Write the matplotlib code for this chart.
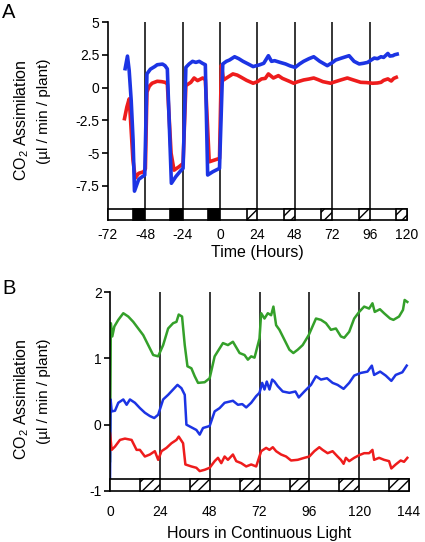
import matplotlib
matplotlib.use('Agg')
import matplotlib.pyplot as plt
from matplotlib.patches import Rectangle

plt.rcParams['font.family'] = ['Liberation Sans', 'DejaVu Sans']
plt.rcParams['mathtext.fontset'] = 'custom'
plt.rcParams['mathtext.rm'] = 'Liberation Sans'
plt.rcParams['hatch.linewidth'] = 1.0

# ---- panel A data (hours, CO2 assimilation) ----
blueA_t = [-61, -59.5, -58.4, -57.1, -55.9, -55, -52.3, -50, -48.4, -47, -44.8, -42, -40.4, -37, -35.4,
           -33.9, -31.3, -28.5, -25.3, -23.8, -22, -19.9, -17.7, -15.6, -13.4, -11.2, -9.5, -8, -4.7,
           -0.4, 1.7, 4, 6, 9.3, 12, 14.7, 18, 21.2, 25.5, 28, 31, 33, 35, 38.5, 42, 45, 48.2, 51,
           53.6, 57, 60.1, 64, 68.8, 72, 74.2, 78, 82.8, 86, 89.3, 92, 94.7, 97, 99, 101, 103.3, 105,
           107.7, 109, 110.9, 112, 113.7]
blueA_v = [1.44, 2.4, 1.3, -1.0, -4.0, -7.9, -7.0, -6.8, -6.67, 1.04, 1.4, 1.6, 1.74, 1.79, 1.67,
           1.42, -7.3, -6.8, -6.34, -6.16, 1.54, 1.8, 2.0, 1.92, 2.0, 1.84, 1.74, -6.67, -6.42,
           -6.16, 1.8, 2.0, 2.1, 2.35, 2.2, 2.0, 1.8, 1.6, 1.74, 1.85, 2.43, 2.0, 2.05, 1.92, 1.8, 1.65, 1.54, 1.8,
           2.0, 2.2, 2.35, 2.0, 1.67, 1.9, 2.1, 2.25, 2.43, 2.0, 1.8, 1.85, 1.92, 2.1, 2.25, 2.2, 2.35, 2.3,
           2.6, 2.4, 2.43, 2.5, 2.55]

redA_t = [-61.4, -59.9, -58.4, -57.5, -56, -54.5, -52.3, -49.1, -48, -47, -45.5, -43.7, -40.4, -37.5, -35.4,
          -33.9, -31.5, -29.6, -26.4, -23.8, -22, -18.8, -16.7, -14.5, -11.2, -9.5, -7, -0.4, 0.8, 2.2,
          5, 8.2, 11, 13.6, 17, 21.2, 24, 26.6, 29, 31, 34.2, 37.4, 40, 44, 47.2, 50, 53.6, 57, 60.1,
          63, 66, 70.9, 74, 78, 81.7, 85, 90.3, 94, 97.9, 101, 103.3, 105, 107.7, 109.9, 111.5, 113.1]
redA_v = [-2.37, -1.49, -0.86, -2.5, -5.5, -6.9, -6.54, -6.42, -6.2, -0.35, 0.1, 0.33, 0.48, 0.45, 0.4,
          0.28, -5.0, -6.3, -6.04, -5.79, 0.15, 0.4, 0.73, 0.53, 0.73, 0.6, -5.66, -5.4, 1.7, 0.58,
          0.8, 1.04, 0.95, 0.78, 0.55, 0.33, 0.45, 0.66, 0.7, 1.04, 0.73, 0.91, 0.7, 0.5, 0.33, 0.45, 0.58, 0.65, 0.73,
          0.6, 0.45, 0.33, 0.45, 0.6, 0.73, 0.6, 0.4, 0.38, 0.33, 0.35, 0.4, 0.55, 0.66, 0.5, 0.7, 0.78]

darkA = [(-56, -48), (-32, -24), (-8, 0)]
subjA = [(17, 24), (41, 48), (65, 72), (89, 96), (113, 120)]
gridA = [-48, -24, 0, 24, 48, 72, 96]
xticksA = [-72, -48, -24, 0, 24, 48, 72, 96, 120]
yticksA = [5, 2.5, 0, -2.5, -5, -7.5]
ylabelsA = ['5', '2.5', '0', '-2.5', '-5', '-7.5']

# ---- panel B data (hours in continuous light) ----
greenB_t = [0, 0.4, 1.1, 2.1, 4, 6.4, 8.8, 11.2, 13.6, 16, 18.4, 20.8, 23.2, 25.6, 28, 30.4, 32, 33.1, 34.7,
            36, 37.3, 39.2, 40.8, 42.4, 45.6, 48, 50.4, 54.4, 56.8, 59.2, 62.4, 64.8, 66.4, 68, 69.6,
            72, 72.8, 74.4, 76, 77.6, 78.7, 80, 81.6, 84, 86.4, 88.3, 90.4, 92.8, 95.7, 99.2, 101.6,
            104, 106.4, 108.8, 111.2, 112.8, 115.2, 117.6, 120, 122.4, 124.8, 126.4, 127.5, 130, 132,
            134.9, 136.5, 139.2, 141.1, 141.9, 143.2]
greenB_v = [-0.55, 1.53, 1.33, 1.48, 1.58, 1.68, 1.63, 1.55, 1.45, 1.35, 1.2, 1.05, 1.03, 1.2, 1.45, 1.53, 1.55, 1.66, 1.63,
            1.2, 0.88, 0.85, 0.73, 0.63, 0.64, 0.70, 1.03, 1.23, 1.2, 1.25, 1.08, 1.05, 0.98, 1.03, 1.01,
            1.3, 1.68, 1.6, 1.68, 1.65, 1.78, 1.5, 1.43, 1.28, 1.13, 1.08, 1.13, 1.2, 1.35, 1.6, 1.58,
            1.53, 1.43, 1.45, 1.33, 1.31, 1.40, 1.6, 1.70, 1.78, 1.75, 1.83, 1.70, 1.74, 1.68,
            1.6, 1.58, 1.63, 1.73, 1.88, 1.85]

blueB_t = [0, 0.3, 0.8, 2.4, 4, 6.4, 8, 9.6, 12, 14.4, 16.8, 19.2, 21.3, 23.2, 25.6, 28, 30.4, 32.5, 34.4,
           36, 36.8, 39.2, 41.6, 43.2, 44.8, 48, 50.4, 52.8, 55.2, 59.2, 61.6, 63.7, 65.6, 68, 70.4, 72,
           73.3, 74.4, 75.5, 76.8, 78.1, 79.2, 80.8, 83.2, 86.4, 89.3, 90.9, 93.6, 96.8, 99.2, 101.6,
           104.5, 107.2, 109.6, 112.5, 115.2, 117.6, 120.8, 124, 126.1, 127.2, 130.1, 132.8, 135.5,
           137.6, 140.8, 142.9]
blueB_v = [-0.85, 0.38, 0.2, 0.21, 0.33, 0.38, 0.30, 0.38, 0.33, 0.25, 0.18, 0.13, 0.10, 0.15, 0.38, 0.45, 0.53, 0.6, 0.55,
           0.45, 0.0, -0.04, -0.08, -0.15, -0.05, -0.02, 0.2, 0.25, 0.33, 0.36, 0.30, 0.31, 0.26, 0.33, 0.43, 0.48,
           0.63, 0.53, 0.65, 0.53, 0.68, 0.65, 0.58, 0.5, 0.48, 0.5, 0.41, 0.5, 0.6, 0.73, 0.68,
           0.70, 0.63, 0.6, 0.54, 0.63, 0.74, 0.78, 0.8, 0.89, 0.75, 0.8, 0.74, 0.66,
           0.75, 0.79, 0.89]

redB_t = [0, 0.8, 2.4, 4.8, 7.2, 10.4, 12.8, 14.4, 16.8, 19.2, 21.6, 23.2, 24.8, 27.2, 29.6, 32, 33.1, 35.2,
          36.3, 39.2, 41.6, 43.2, 45.6, 48, 50.4, 52, 53.6, 55.2, 56.8, 59.2, 60.8, 63.2, 65.6, 68, 70.4,
          72.8, 75.2, 76.8, 78.4, 80, 82.4, 84.8, 87.2, 90.4, 93.6, 96, 98.4, 100.8, 102.4, 104.8, 107.2,
          109.6, 111.2, 112.5, 113.6, 115.2, 117.6, 120, 122.4, 124.8, 126.4, 127.2, 129.6, 132, 134.4,
          135.5, 137.6, 140, 141.6, 143.2]
redB_v = [-0.13, -0.38, -0.33, -0.23, -0.21, -0.23, -0.38, -0.38, -0.48, -0.45, -0.40, -0.53, -0.40, -0.35, -0.28, -0.23, -0.18, -0.28,
          -0.6, -0.63, -0.65, -0.70, -0.68, -0.65, -0.55, -0.5, -0.58, -0.48, -0.53, -0.45, -0.55, -0.58, -0.63, -0.6, -0.63,
          -0.40, -0.35, -0.38, -0.34, -0.4, -0.45, -0.48, -0.54, -0.53, -0.5, -0.48, -0.4, -0.34, -0.38, -0.43, -0.4,
          -0.48, -0.53, -0.59, -0.5, -0.55, -0.5, -0.46, -0.43, -0.43, -0.38, -0.53, -0.5, -0.53, -0.55,
          -0.66, -0.6, -0.54, -0.56, -0.5]

subjB = [(14.5, 24), (38.5, 48), (62.5, 72), (86.5, 96), (110.5, 120), (134.5, 144)]
gridB = [24, 48, 72, 96, 120]
xticksB = [0, 24, 48, 72, 96, 120, 144]
yticksB = [2, 1, 0, -1]

RED = '#ee1c1c'
BLUE = '#1c34e4'
GREEN = '#34a02a'


def light_bar(ax, x0, x1, y0, y1, dark, subj):
    ax.add_patch(Rectangle((x0, y0), x1 - x0, y1 - y0, facecolor='white',
                           edgecolor='black', lw=1.2, clip_on=False, zorder=3))
    for a, b in dark:
        ax.add_patch(Rectangle((a, y0), b - a, y1 - y0, facecolor='black',
                               edgecolor='black', lw=1.2, clip_on=False, zorder=4))
    for a, b in subj:
        ax.add_patch(Rectangle((a, y0), b - a, y1 - y0, facecolor='white', hatch='///',
                               edgecolor='black', lw=1.2, clip_on=False, zorder=4))


def style(ax):
    for s in ['top', 'right', 'bottom']:
        ax.spines[s].set_visible(False)
    ax.spines['left'].set_linewidth(1.2)
    ax.tick_params(axis='y', direction='out', length=4, width=1.2, pad=2, labelsize=10)
    ax.tick_params(axis='x', length=0, labelsize=10)


fig = plt.figure(figsize=(4.25, 5.42), dpi=100)

# panel A
axA = fig.add_axes([108 / 425, 1 - 220 / 542, 299 / 425, 198 / 542])
axA.plot(redA_t, redA_v, color=RED, lw=2.6, zorder=2)
axA.plot(blueA_t, blueA_v, color=BLUE, lw=2.6, zorder=2)
axA.vlines(gridA, -9.25, 5, color='black', lw=1.1, zorder=1)
axA.set_xlim(-72, 120)
axA.set_ylim(-10.1, 5)
light_bar(axA, -72, 120, -10.1, -9.25, darkA, subjA)
style(axA)
axA.set_yticks(yticksA)
axA.set_yticklabels(ylabelsA)
axA.set_xticks(xticksA)
axA.set_xticklabels([str(v) for v in xticksA])
axA.tick_params(axis='x', pad=6)
axA.set_xlabel('Time (Hours)', fontsize=11.5, labelpad=2)

# panel B
axB = fig.add_axes([110 / 425, 1 - 491 / 542, 299 / 425, 199 / 542])
axB.plot(greenB_t, greenB_v, color=GREEN, lw=1.8, zorder=2)
axB.plot(blueB_t, blueB_v, color=BLUE, lw=1.8, zorder=2)
axB.plot(redB_t, redB_v, color=RED, lw=1.8, zorder=2)
axB.vlines(gridB, -0.82, 2, color='black', lw=1.1, zorder=1)
axB.set_xlim(0, 144)
axB.set_ylim(-1, 2)
light_bar(axB, 0, 144, -1, -0.82, [], subjB)
style(axB)
axB.set_yticks(yticksB)
axB.set_yticklabels([str(v) for v in yticksB])
axB.set_xticks(xticksB)
axB.tick_params(axis='x', pad=10)
axB.set_xlabel('Hours in Continuous Light', fontsize=11.5, labelpad=5)

# y labels (two lines each)
for top in [59, 338]:
    fig.text(22 / 425, 1 - top / 542, r'CO$_\mathregular{2}$ Assimilation', rotation=90,
             ha='center', va='top', fontsize=11.5)
    fig.text(44 / 425, 1 - top / 542, '(\u00b5l / min / plant)', rotation=90,
             ha='center', va='top', fontsize=11)

fig.text(9 / 425, 1 - 12 / 542, 'A', ha='center', va='center', fontsize=14.5)
fig.text(9 / 425, 1 - 289 / 542, 'B', ha='center', va='center', fontsize=14.5)

fig.savefig('out.png', dpi=100)
